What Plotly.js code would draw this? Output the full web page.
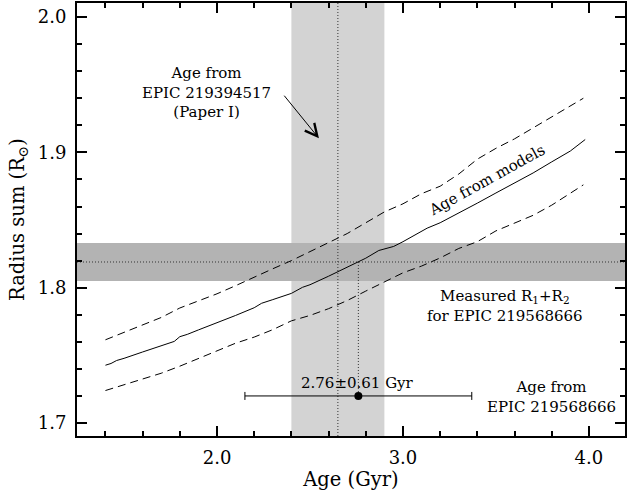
<!DOCTYPE html>
<html>
<head>
<meta charset="utf-8">
<script src="https://cdn.plot.ly/plotly-3.0.1.min.js"></script>
<style>html,body{margin:0;padding:0;background:#fff;}#chart{width:634px;height:491px;}</style>
</head>
<body>
<div id="chart"></div>
<script>
// Model isochrone age vs radius sum (solid = best, dashed = bounds)
const ageModel = [1.40,1.43,1.46,1.50,1.60,1.70,1.77,1.80,1.84,1.90,2.00,2.10,2.20,2.24,2.30,2.40,2.46,2.50,2.60,2.70,2.80,2.87,2.95,3.00,3.10,3.13,3.20,3.30,3.40,3.50,3.60,3.70,3.80,3.90,3.98];
const radiusModel = [1.7427,1.7440,1.7462,1.7478,1.7525,1.7568,1.7603,1.7638,1.7655,1.7688,1.7740,1.7795,1.7852,1.7885,1.7912,1.7958,1.8003,1.8022,1.8085,1.8150,1.8218,1.8275,1.8305,1.8340,1.8415,1.8440,1.8480,1.8550,1.8625,1.8700,1.8772,1.8848,1.8930,1.9010,1.9095];

const ageUpper = [1.40,1.50,1.60,1.70,1.80,1.90,2.00,2.10,2.20,2.30,2.40,2.50,2.60,2.70,2.80,2.90,3.00,3.10,3.20,3.30,3.40,3.50,3.60,3.70,3.80,3.90,3.97];
const radiusUpper = [1.7615,1.7670,1.7725,1.7780,1.7850,1.7900,1.7955,1.8015,1.8080,1.8140,1.8200,1.8265,1.8330,1.8400,1.8480,1.8560,1.8620,1.8695,1.8750,1.8840,1.8950,1.9030,1.9100,1.9180,1.9260,1.9340,1.9400];

const ageLower = [1.40,1.50,1.60,1.70,1.80,1.90,2.00,2.10,2.20,2.30,2.40,2.50,2.60,2.70,2.80,2.90,3.00,3.10,3.20,3.30,3.40,3.50,3.60,3.70,3.80,3.90,3.97];
const radiusLower = [1.7240,1.7282,1.7322,1.7368,1.7420,1.7478,1.7530,1.7590,1.7635,1.7690,1.7755,1.7795,1.7845,1.7905,1.7975,1.8045,1.8110,1.8160,1.8220,1.8290,1.8340,1.8420,1.8480,1.8535,1.8610,1.8700,1.8760];

// Measurements
const paperIAge = 2.65, paperIAgeErr = 0.25;
const measuredRsum = 1.819, measuredRsumErr = 0.014;
const derivedAge = [2.76], derivedAgeErr = [0.61], derivedRow = [1.72];

// Axis ranges
const xRange = [1.247, 4.194], yRange = [1.6904, 2.0104];

const fontFam = 'DejaVu Serif, serif';
const dotDash = '1px,2px';
const xa0 = paperIAge - paperIAgeErr, xa1 = paperIAge + paperIAgeErr;
const yb0 = measuredRsum - measuredRsumErr, yb1 = measuredRsum + measuredRsumErr;

const traces = [
  {x: [xa0, xa1, xa1, xa0, xa0], y: [yRange[0], yRange[0], yRange[1], yRange[1], yRange[0]], mode: 'lines', fill: 'toself',
   fillcolor: '#d3d3d3', line: {width: 0, color: 'rgba(0,0,0,0)'}, hoverinfo: 'skip'},
  {x: [xRange[0], xRange[1], xRange[1], xRange[0], xRange[0]], y: [yb0, yb0, yb1, yb1, yb0], mode: 'lines', fill: 'toself',
   fillcolor: '#b3b3b3', line: {width: 0, color: 'rgba(0,0,0,0)'}, hoverinfo: 'skip'},
  {x: [paperIAge, paperIAge], y: yRange, mode: 'lines', line: {color: '#333', width: 1, dash: dotDash}},
  {x: xRange, y: [measuredRsum, measuredRsum], mode: 'lines', line: {color: '#333', width: 1, dash: dotDash}},
  {x: [derivedAge[0], derivedAge[0]], y: [measuredRsum, derivedRow[0]], mode: 'lines', line: {color: '#333', width: 1, dash: dotDash}},
  {x: ageUpper, y: radiusUpper, mode: 'lines', line: {color: '#000', width: 1, dash: '8px,5px'}},
  {x: ageLower, y: radiusLower, mode: 'lines', line: {color: '#000', width: 1, dash: '8px,5px'}},
  {x: ageModel, y: radiusModel, mode: 'lines', line: {color: '#000', width: 1}},
  {x: derivedAge, y: derivedRow, mode: 'markers', marker: {color: '#000', size: 8},
   error_x: {type: 'data', array: derivedAgeErr, visible: true, color: '#000', thickness: 1, width: 4}}
];

const annFont = {family: fontFam, size: 15, color: '#000'};
const annotations = [
  {x: 1.946, y: 1.9444, xref: 'x', yref: 'y', text: 'Age from<br>EPIC 219394517<br>(Paper I)', showarrow: false, font: annFont},
  {x: 2.548, y: 1.9104, ax: 2.355, ay: 1.9430, xref: 'x', yref: 'y', axref: 'x', ayref: 'y', text: '',
   showarrow: true, arrowhead: 5, arrowsize: 2.4, arrowwidth: 1, arrowcolor: '#000'},
  {x: 3.452, y: 1.8793, xref: 'x', yref: 'y', text: 'Age from models', showarrow: false, textangle: -29, font: annFont},
  {x: 3.548, y: 1.7867, xref: 'x', yref: 'y', text: 'Measured R<sub>1</sub>+R<sub>2</sub><br>for EPIC 219568666', showarrow: false, font: annFont},
  {x: 2.758, y: 1.7296, xref: 'x', yref: 'y', text: '2.76±0.61 Gyr', showarrow: false, font: annFont},
  {x: 3.801, y: 1.7193, xref: 'x', yref: 'y', text: 'Age from<br>EPIC 219568666', showarrow: false, font: annFont}
];

const titleFont = {family: fontFam, size: 19.5, color: '#000'};
const tickFont = {family: fontFam, size: 18, color: '#000'};
const tickCol = '#000';

const layout = {
  width: 634, height: 491,
  margin: {l: 77, r: 9, t: 3, b: 55},
  showlegend: false,
  xaxis: {
    range: xRange, showgrid: false, zeroline: false, showline: true, linecolor: '#000', linewidth: 2, mirror: 'ticks',
    ticks: 'inside', ticklen: 10, tickwidth: 2, tickcolor: tickCol, dtick: 1, tick0: 0, tickformat: '.1f',
    tickfont: tickFont, ticklabelstandoff: 4,
    minor: {ticks: 'inside', ticklen: 5, dtick: 0.2, tick0: 0, tickcolor: tickCol, tickwidth: 1.5},
    title: {text: 'Age (Gyr)', font: titleFont, standoff: 10}
  },
  yaxis: {
    range: yRange, showgrid: false, zeroline: false, showline: true, linecolor: '#000', linewidth: 2, mirror: 'ticks',
    ticks: 'inside', ticklen: 10, tickwidth: 2, tickcolor: tickCol, dtick: 0.1, tick0: 0, tickformat: '.1f',
    tickfont: tickFont, ticklabelstandoff: 5,
    minor: {ticks: 'inside', ticklen: 5, dtick: 0.02, tick0: 0, tickcolor: tickCol, tickwidth: 1.5},
    title: {text: 'Radius sum (R<sub>⊙</sub>)', font: titleFont, standoff: 8}
  },
  annotations: annotations
};

Plotly.newPlot('chart', traces, layout, {displayModeBar: false});
</script>
</body>
</html>
